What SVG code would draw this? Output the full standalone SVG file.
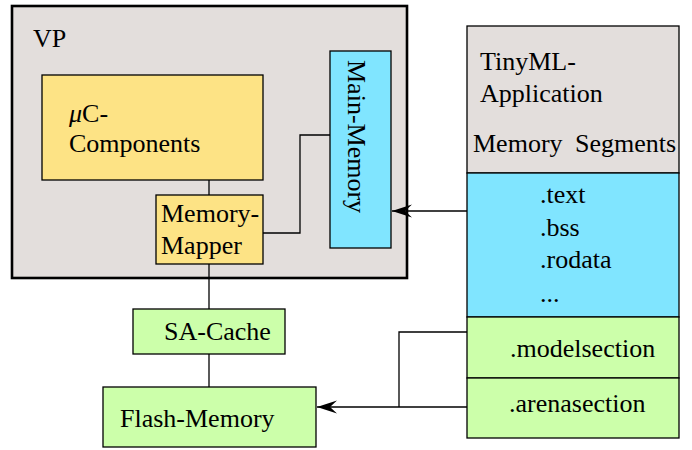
<svg xmlns="http://www.w3.org/2000/svg" width="692" height="450" viewBox="0 0 692 450" font-family="'Liberation Serif', 'Times New Roman', 'DejaVu Serif', serif">
<defs>
<style>
text{font-family:'Liberation Serif','Times New Roman','DejaVu Serif',serif;font-size:26px;fill:#000}
.box{stroke:#000;stroke-width:1.3}
.gray{fill:#e3dedc}
.yel{fill:#fde385}
.cyan{fill:#80e5ff}
.green{fill:#ccffaa}
.wire{fill:none;stroke:#000;stroke-width:1.3}
</style>
<marker id="ah" viewBox="0 0 20 14" refX="20" refY="7" markerWidth="20" markerHeight="14" markerUnits="userSpaceOnUse" orient="auto">
<path d="M20,7 L0,0.5 L7,7 L0,13.5 Z" fill="#000"/>
</marker>
</defs>
<g id="vp">
<rect x="12" y="6" width="395" height="272" class="gray" stroke="#000" stroke-width="2.6"/>
<text x="33" y="47">VP</text>
</g>
<g id="connectors">
<path class="wire" d="M209,180 V195"/>
<path class="wire" d="M263,233 H300 V135 H330"/>
<path class="wire" d="M209,264 V309"/>
<path class="wire" d="M209,354 V387"/>
<path class="wire" d="M467,211 H392" marker-end="url(#ah)"/>
<path class="wire" d="M467,407 H317" marker-end="url(#ah)"/>
<path class="wire" d="M467,332 H399 V407"/>
</g>
<g id="uc">
<rect x="42" y="75" width="221" height="105" class="box yel"/>
<text x="69" y="122"><tspan font-style="italic">μ</tspan>C-</text>
<text x="69" y="152">Components</text>
</g>
<g id="mapper">
<rect x="156" y="195" width="107" height="69" class="box yel"/>
<text x="161" y="222">Memory-</text>
<text x="161" y="254">Mapper</text>
</g>
<g id="mainmem">
<rect x="330" y="51" width="61" height="197" class="box cyan"/>
<text transform="translate(348,60) rotate(90)">Main-Memory</text>
</g>
<g id="sacache">
<rect x="133" y="309" width="152" height="45" class="box green"/>
<text x="164" y="340">SA-Cache</text>
</g>
<g id="flash">
<rect x="103" y="387" width="213" height="60" class="box green"/>
<text x="120" y="427">Flash-Memory</text>
</g>
<g id="tinyml">
<rect x="467" y="26" width="212" height="147" class="box gray"/>
<text x="480" y="70">TinyML-</text>
<text x="480" y="102">Application</text>
<text x="473" y="152" word-spacing="6">Memory Segments</text>
</g>
<g id="segs">
<rect x="467" y="173" width="212" height="144" class="box cyan"/>
<text x="540" y="203">.text</text>
<text x="540" y="236">.bss</text>
<text x="540" y="268">.rodata</text>
<text x="540" y="302">...</text>
</g>
<g id="model">
<rect x="467" y="317" width="212" height="61" class="box green"/>
<text x="510" y="357">.modelsection</text>
</g>
<g id="arena">
<rect x="467" y="378" width="212" height="60" class="box green"/>
<text x="509" y="412">.arenasection</text>
</g>
</svg>
